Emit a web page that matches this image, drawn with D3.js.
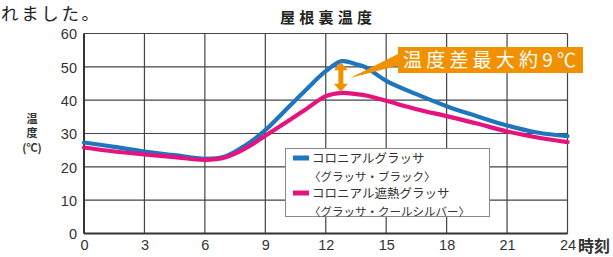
<!DOCTYPE html>
<html><head><meta charset="utf-8">
<script src="https://cdn.jsdelivr.net/npm/d3@7"></script>
<style>
html,body{margin:0;padding:0;background:#fff;}
svg{display:block;}
</style></head>
<body>
<svg id="c" width="613" height="257"></svg>
<script>
const hours = [0,1.5,3,4.5,6,7,8,9,10,11,12,12.8,13.5,14,15,16.5,18,19.5,21,22.5,24];
const blackValues = [27.3,26,24.6,23.5,22.4,23.1,26.4,31,37,43,48.7,51.7,50.8,49.8,45.8,41.8,38.2,35.2,32.4,30.3,29.2];
const silverValues = [25.8,24.6,23.7,22.9,22.1,22.8,25.5,29.3,33.2,37.2,41.2,42.2,41.8,41.4,39.8,37.3,35.2,33,30.6,28.8,27.4];
const xTicks = [0,3,6,9,12,15,18,21,24];
const yTicks = [0,10,20,30,40,50,60];
const seriesNames = ["コロニアルグラッサ","コロニアル遮熱グラッサ"];
const seriesSubs = ["〈グラッサ・ブラック〉","〈グラッサ・クールシルバー〉"];
const title = "屋根裏温度";
const calloutText = "温度差最大約9℃";
const peakHour = 12.8;

const svg = d3.select("#c");
const x = d3.scaleLinear().domain([0,24]).range([84,567.5]);
const y = d3.scaleLinear().domain([0,60]).range([233.5,33.5]);
const jp = "'Noto Sans CJK JP','Noto Sans',sans-serif";
const num = "'Liberation Sans',Arial,sans-serif";

// page text fragment
svg.append("text").attr("x",1).attr("y",20.3).attr("font-family",jp)
  .attr("font-size",17.5).attr("textLength",98).attr("lengthAdjust","spacing")
  .attr("fill","#222").text("れました。");

// title
svg.append("text").attr("x",326).attr("y",23).attr("text-anchor","middle")
  .attr("font-family",jp).attr("font-weight","bold").attr("font-size",15)
  .attr("textLength",92).attr("lengthAdjust","spacing").attr("fill","#222").text(title);

// grid
const g = svg.append("g");
g.selectAll("line.h").data(yTicks).join("line")
  .attr("x1",x(0)).attr("x2",x(24)).attr("y1",d=>y(d)).attr("y2",d=>y(d))
  .attr("stroke","#444").attr("stroke-width",1.2);
g.selectAll("line.v").data(xTicks).join("line")
  .attr("y1",y(0)).attr("y2",y(60)).attr("x1",d=>x(d)).attr("x2",d=>x(d))
  .attr("stroke","#444").attr("stroke-width",1.2);
g.append("line").attr("x1",x(0)).attr("x2",x(0)).attr("y1",y(0)).attr("y2",y(60)).attr("stroke","#333").attr("stroke-width",2);
g.append("line").attr("x1",x(0)).attr("x2",x(24)).attr("y1",y(0)).attr("y2",y(0)).attr("stroke","#333").attr("stroke-width",2);

// axes labels via d3 axes
const ya = svg.append("g").attr("transform",`translate(${x(0)},0)`)
  .call(d3.axisLeft(y).tickValues(yTicks).tickSize(0).tickPadding(7));
ya.select(".domain").remove();
ya.selectAll("text").attr("font-family",num).attr("font-size",14.5).attr("fill","#333").attr("dy","0.36em");
const xa = svg.append("g").attr("transform",`translate(0,${y(0)})`)
  .call(d3.axisBottom(x).tickValues(xTicks).tickSize(0).tickPadding(6));
xa.select(".domain").remove();
xa.selectAll("text").attr("font-family",num).attr("font-size",14.5).attr("fill","#333");
svg.append("text").attr("x",578).attr("y",252).attr("font-family",jp).attr("font-weight","bold")
  .attr("font-size",16).attr("fill","#333").text("時刻");

// y axis title
const yl = svg.append("g").attr("font-family",jp).attr("font-weight","bold").attr("font-size",11).attr("fill","#333");
yl.append("text").attr("x",32).attr("y",113).attr("writing-mode","tb").attr("letter-spacing",3).text("温度");
yl.append("text").attr("x",32).attr("y",152).attr("text-anchor","middle").text("(℃)");

// lines
const line = d3.line().x(d=>x(d[0])).y(d=>y(d[1])).curve(d3.curveCatmullRom.alpha(0.5));
const colors = ["#1f76bd","#e6137f"];
[blackValues, silverValues].forEach((vals,i)=>{
  svg.append("path").datum(hours.map((h,j)=>[h,vals[j]]))
    .attr("d",line).attr("fill","none").attr("stroke",colors[i]).attr("stroke-width",4.2)
    .attr("stroke-linecap","round").attr("stroke-linejoin","round");
});

// legend
const lg = svg.append("g");
lg.append("rect").attr("x",285.5).attr("y",148.5).attr("width",204).attr("height",68)
  .attr("fill","#fff").attr("stroke","#888").attr("stroke-width",1);
seriesNames.forEach((n,i)=>{
  const cy = 158 + i*35;
  lg.append("rect").attr("x",293).attr("y",cy-2.5).attr("width",16).attr("height",5).attr("fill",colors[i]);
  lg.append("text").attr("x",312).attr("y",cy+4.5).attr("font-family",jp).attr("font-size",12.5)
    .attr("fill","#333").text(n);
  lg.append("text").attr("x",309).attr("y",cy+23).attr("font-family",jp).attr("font-size",11.5)
    .attr("fill","#333").text(seriesSubs[i]);
});

// double arrow between peaks
const orange = "#f29100";
const ax = x(peakHour)-1, yTop = y(d3.max(blackValues))+1, yBot = y(d3.max(silverValues))-1;
svg.append("rect").attr("x",ax-2.5).attr("y",yTop+5).attr("width",5).attr("height",yBot-yTop-10).attr("fill",orange);
svg.append("path").attr("d",`M${ax},${yTop} L${ax-7},${yTop+8} L${ax+7},${yTop+8} Z`).attr("fill",orange);
svg.append("path").attr("d",`M${ax},${yBot} L${ax-7},${yBot-8} L${ax+7},${yBot-8} Z`).attr("fill",orange);

// callout
svg.append("path").attr("d","M350,78 L400,53 L400,65 Z").attr("fill",orange);
svg.append("rect").attr("x",398).attr("y",47).attr("width",185).attr("height",26).attr("fill",orange);
svg.append("text").attr("x",403).attr("y",67).attr("font-family",jp).attr("font-size",19)
  .attr("textLength",173).attr("lengthAdjust","spacing").attr("fill","#fff").text(calloutText);
</script>
</body></html>
